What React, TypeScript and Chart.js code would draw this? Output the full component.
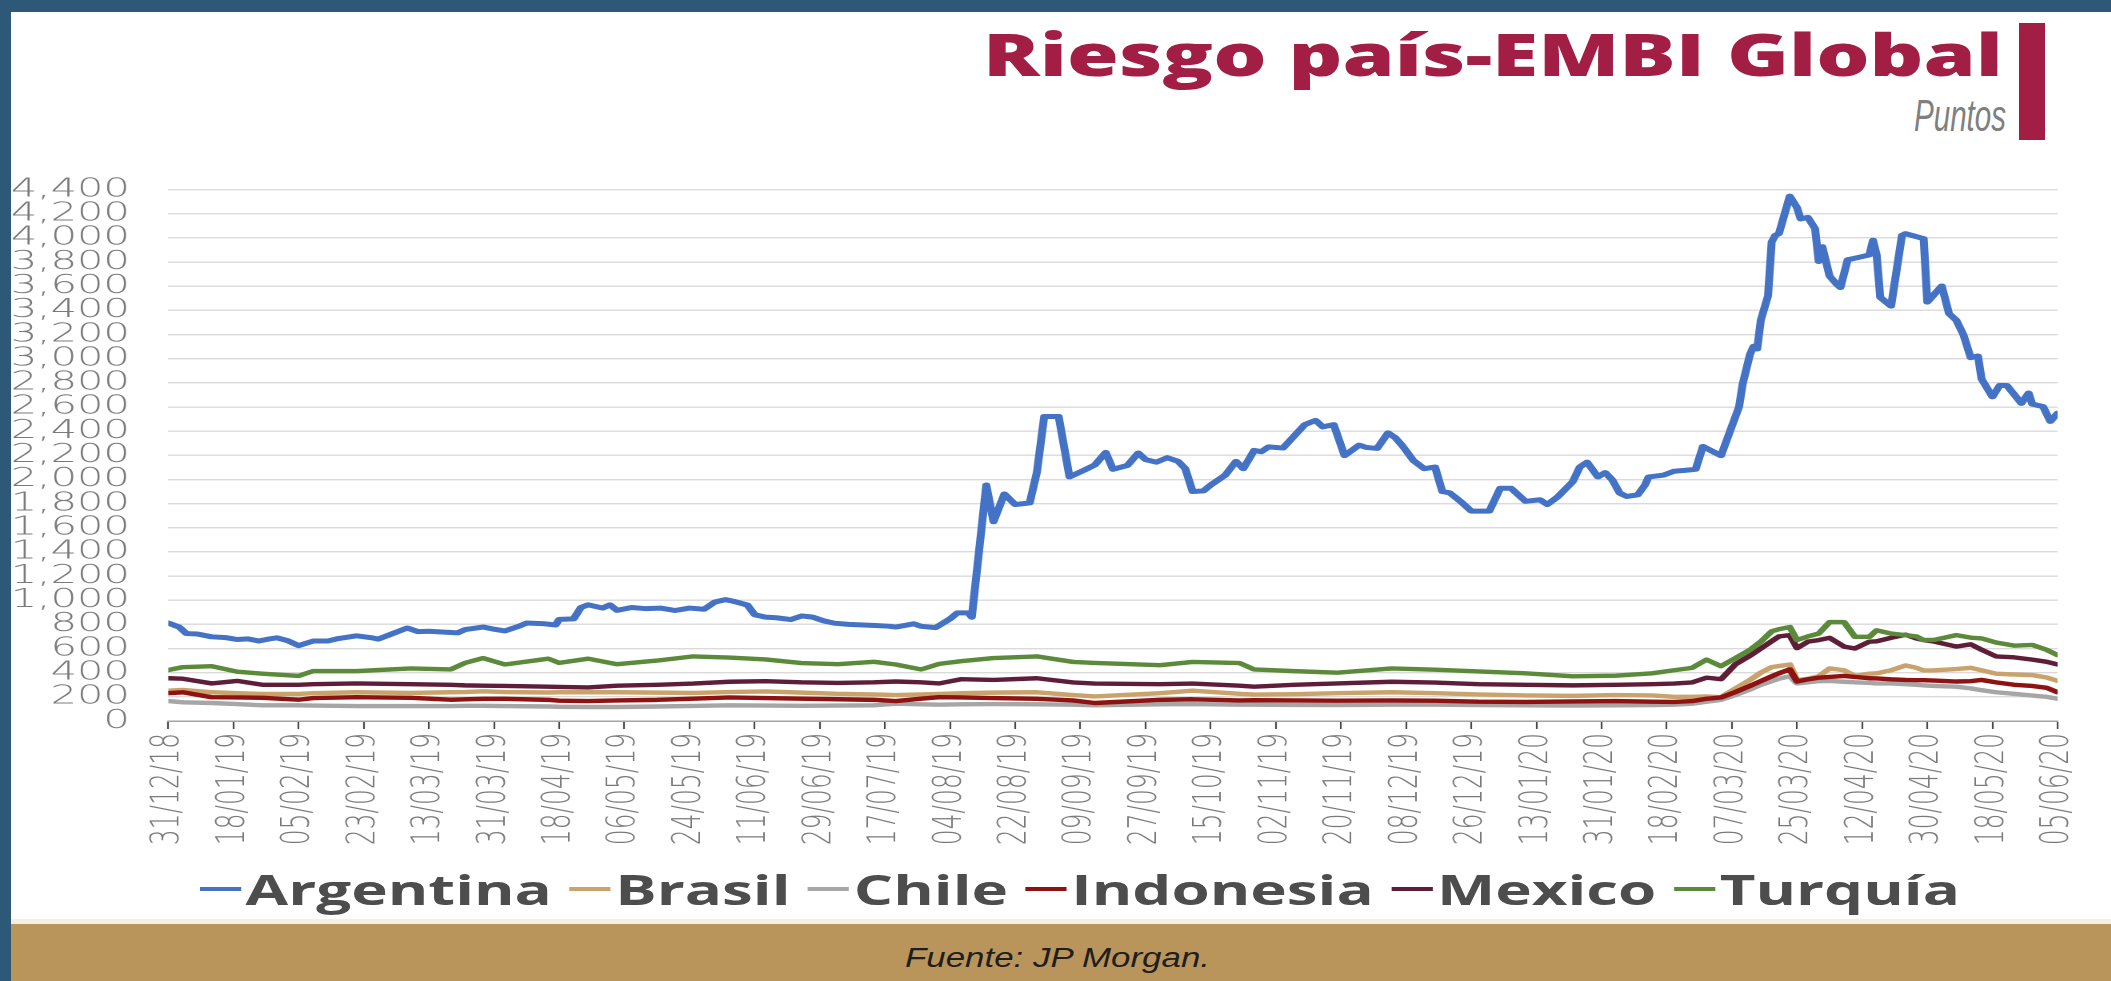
import React, { useEffect, useLayoutEffect, useRef } from 'react';
import { Chart, registerables } from 'chart.js';

Chart.register(...registerables);

// ---------- DATA ----------
const xLabels = ['31/12/18','18/01/19','05/02/19','23/02/19','13/03/19','31/03/19','18/04/19','06/05/19','24/05/19','11/06/19','29/06/19','17/07/19','04/08/19','22/08/19','09/09/19','27/09/19','15/10/19','02/11/19','20/11/19','08/12/19','26/12/19','13/01/20','31/01/20','18/02/20','07/03/20','25/03/20','12/04/20','30/04/20','18/05/20','05/06/20'];
// day offsets (from 31/12/18) of the labelled ticks
const xTickDays = [0,18,36,54,72,90,108,126,144,162,180,198,216,234,252,270,288,306,324,342,360,378,396,414,432,450,468,486,504,522];
const yTicks = [0,200,400,600,800,1000,1200,1400,1600,1800,2000,2200,2400,2600,2800,3000,3200,3400,3600,3800,4000,4200,4400];

const seriesNames = ['Argentina','Brasil','Chile','Indonesia','Mexico','Turquía'];

const argDays = [0,3,5,8,12,16,19,22,25,28,30,33,36,40,44,47,52,56,58,62,66,69,72,75,80,82,87,90,93,97,99,104,107,108,112,114,116,120,122,124,128,132,136,140,144,148,151,154,157,160,162,165,168,172,175,178,181,184,188,192,196,199,201,206,208,212,216,218,221,222,226,228,231,234,238,240,242,246,249,253,256,259,261,265,268,270,273,276,279,281,283,286,288,292,295,297,300,302,304,308,312,314,317,319,322,325,329,331,334,337,339,341,344,347,350,352,354,357,360,365,368,371,375,379,381,384,388,390,392,395,397,399,401,403,406,408,409,413,416,419,422,424,429,431,434,435,437,438,439,440,442,443,444,445,448,450,451,453,455,456,457,459,461,462,464,466,470,471,472,473,476,479,480,485,486,488,490,492,494,496,498,500,501,504,506,508,512,514,515,518,520,522];
const argentina = [811,778,724,720,697,690,675,680,662,680,689,665,624,662,662,683,705,690,678,724,770,740,743,738,730,757,778,760,746,786,811,805,795,841,846,940,962,935,962,916,940,930,935,915,935,925,985,1005,985,960,880,860,855,840,870,860,830,810,800,795,790,785,778,805,784,773,846,895,895,859,1954,1650,1880,1792,1806,2062,2521,2521,2021,2076,2120,2224,2084,2116,2219,2165,2143,2180,2150,2089,1900,1905,1954,2035,2150,2089,2240,2230,2270,2260,2390,2454,2489,2435,2454,2197,2284,2265,2257,2386,2346,2278,2157,2089,2103,1900,1890,1819,1738,1738,1927,1927,1819,1832,1792,1859,1980,2103,2143,2021,2057,1995,1887,1859,1873,1954,2021,2035,2068,2075,2084,2273,2197,2359,2603,2792,3035,3103,3080,3319,3521,3967,4021,4035,4346,4251,4157,4170,4076,3805,3927,3684,3616,3589,3819,3832,3859,3981,3860,3508,3435,4021,4035,3994,3468,3535,3602,3373,3319,3197,3008,3022,2832,2684,2778,2778,2630,2716,2624,2603,2481,2549];

const lowDays = [0,4,12,19,26,36,40,52,67,78,82,87,93,105,108,116,124,135,145,155,165,175,185,195,201,208,213,219,228,240,250,256,274,283,296,300,311,323,338,350,362,375,388,400,410,416,421,425,429,433,437,440,443,445,448,450,453,456,459,463,466,470,472,476,480,483,485,488,494,498,501,505,510,515,519,522];
const brasil = [251,257,238,230,224,224,230,238,232,238,240,246,240,236,238,238,238,235,232,240,245,235,225,220,215,220,224,230,235,238,215,203,230,251,225,219,222,230,238,230,220,212,208,215,212,200,200,203,197,270,340,400,446,455,468,338,350,370,435,420,373,392,395,420,460,440,419,420,430,440,420,392,385,380,360,332];
const chile = [165,155,149,140,130,130,128,124,124,124,126,126,124,120,118,116,116,120,125,130,128,126,128,130,143,138,135,138,140,138,135,130,138,140,135,135,133,132,135,135,132,130,128,130,132,135,143,160,175,215,260,300,330,350,370,311,320,330,332,325,320,315,311,311,305,300,295,290,284,270,255,238,225,211,200,184];
const indonesia = [230,238,197,195,192,176,190,197,192,176,180,184,184,175,168,165,170,175,185,195,190,185,180,175,165,185,197,195,190,184,170,149,175,180,170,172,170,168,170,168,160,158,162,165,160,158,165,184,195,240,290,330,370,395,427,327,345,359,365,373,365,354,352,345,340,338,338,335,327,330,340,320,300,290,275,238];
const mexico = [354,350,311,332,300,300,305,311,305,300,295,292,290,284,282,278,292,300,310,325,330,320,315,320,327,320,311,346,340,354,319,310,305,310,292,284,300,311,325,318,305,300,295,300,305,310,319,359,346,470,540,600,660,700,711,603,657,670,689,616,600,657,660,689,715,684,670,657,616,635,590,535,527,508,490,468];
const turquia = [422,446,454,408,392,373,413,413,435,427,481,521,468,516,481,516,470,500,535,525,510,480,470,490,468,427,473,495,521,535,489,481,462,489,480,427,413,400,435,425,410,395,370,375,395,420,440,508,454,521,589,657,743,760,778,670,700,724,819,819,697,697,751,724,711,700,670,672,711,690,684,650,624,630,589,545];

// ---------- STYLE ----------
const COLORS = ['#4472c4', '#c9a36b', '#a6a6a6', '#8e1212', '#5e1e38', '#5b8a3a'];
const FRAME = '#2d5878';
const CRIMSON = '#a21e45';
const STRETCH = 1.6; // the reference chart is horizontally stretched
const CW = 1320;
const CH = 710;
const TICK_FONT = "'DejaVu Sans', 'Noto Sans', sans-serif";

function FitText({ left, top, width, style, children }: any) {
  const ref = useRef<HTMLDivElement>(null);
  useLayoutEffect(() => {
    const el = ref.current;
    if (!el) return;
    const fit = () => {
      el.style.transform = 'none';
      const w = el.getBoundingClientRect().width;
      if (w > 0) el.style.transform = `scaleX(${width / w})`;
    };
    fit();
    const f: any = (document as any).fonts;
    if (f && f.ready) f.ready.then(fit);
  }, [width]);
  return (
    <div
      ref={ref}
      style={{
        position: 'absolute',
        left,
        top,
        whiteSpace: 'nowrap',
        transformOrigin: '0 0',
        lineHeight: 1,
        ...style,
      }}
    >
      {children}
    </div>
  );
}

export default function App() {
  const canvasRef = useRef<HTMLCanvasElement>(null);

  useEffect(() => {
    const pts = (days: number[], vals: number[]) => days.map((d, i) => ({ x: d, y: vals[i] }));
    const series = [
      pts(argDays, argentina),
      pts(lowDays, brasil),
      pts(lowDays, chile),
      pts(lowDays, indonesia),
      pts(lowDays, mexico),
      pts(lowDays, turquia),
    ];
    const tickFont = { family: TICK_FONT, size: 26, weight: 200 as any, lineHeight: 1.2 };
    const chart = new Chart(canvasRef.current as HTMLCanvasElement, {
      type: 'line',
      data: {
        datasets: series.map((data, i) => ({
          label: seriesNames[i],
          data,
          borderColor: COLORS[i],
          backgroundColor: COLORS[i],
          borderWidth: i === 0 ? 5 : 4.4,
          pointRadius: 0,
          tension: 0,
          fill: false,
          order: 6 - i,
          borderJoinStyle: 'round' as const,
          borderCapStyle: 'round' as const,
        })),
      },
      options: {
        animation: false,
        responsive: true,
        maintainAspectRatio: false,
        devicePixelRatio: 2,
        layout: { padding: { left: 0, right: 27.3, top: 28.3, bottom: 0 } },
        plugins: { legend: { display: false }, tooltip: { enabled: false } },
        scales: {
          x: {
            type: 'linear',
            min: 0,
            max: 522,
            afterFit: (s: any) => { s.height = 139; },
            afterBuildTicks: (s: any) => { s.ticks = xTickDays.map((v) => ({ value: v })); },
            border: { display: true, color: '#a3a3a3', width: 1.5 },
            grid: { drawOnChartArea: false, drawTicks: true, tickLength: 8, tickColor: '#4a4a4a', tickWidth: 1.1 },
            ticks: {
              autoSkip: false,
              maxRotation: 90,
              minRotation: 90,
              padding: 4,
              color: '#7a7a7a',
              font: { ...tickFont, size: 25 },
              callback: (_v: any, i: number) => xLabels[i],
            },
          },
          y: {
            min: 0,
            max: 4400,
            afterFit: (s: any) => { s.width = 105.2; },
            afterBuildTicks: (s: any) => { s.ticks = yTicks.map((v) => ({ value: v })); },
            border: { display: false },
            grid: { color: '#dadada', lineWidth: 1.4, drawTicks: false },
            ticks: {
              autoSkip: false,
              padding: 24,
              color: '#7a7a7a',
              font: tickFont,
              callback: (v: any) => Number(v).toLocaleString('en-US'),
            },
          },
        },
      },
    });
    return () => chart.destroy();
  }, []);

  return (
    <div style={{ position: 'fixed', left: 0, top: 0, width: 2111, height: 981, background: FRAME, overflow: 'hidden' }}>
      <div style={{ position: 'absolute', left: 11, top: 12, right: 0, bottom: 0, background: '#ffffff' }} />

      {/* Title block */}
      <FitText left={983} top={25} width={1020} style={{ fontFamily: "'Open Sans', sans-serif", fontWeight: 800, fontSize: 58, color: CRIMSON }}>
        Riesgo país-EMBI Global
      </FitText>
      <FitText left={1914} top={94} width={92} style={{ fontFamily: "'Liberation Sans', Arial, sans-serif", fontStyle: 'italic', fontSize: 44, color: '#7f7f7f' }}>
        Puntos
      </FitText>
      <div style={{ position: 'absolute', left: 2019, top: 23, width: 26, height: 117, background: CRIMSON }} />

      {/* Chart (stretched horizontally like the reference) */}
      <div style={{ position: 'absolute', left: 0, top: 150, width: CW, height: CH, transform: `scaleX(${STRETCH})`, transformOrigin: '0 0' }}>
        <canvas ref={canvasRef} />
      </div>

      {/* Legend */}
      <FitText left={200} top={868} width={1760} style={{ fontFamily: "'Open Sans', sans-serif", fontWeight: 700, fontSize: 42, color: '#4d4d4d', display: 'flex', alignItems: 'center' }}>
        {seriesNames.map((name, i) => (
          <span key={name} style={{ display: 'inline-flex', alignItems: 'center', marginRight: i < seriesNames.length - 1 ? 12 : 0 }}>
            <span style={{ display: 'inline-block', width: 28, height: 4, background: COLORS[i], marginRight: 3 }} />
            <span>{name}</span>
          </span>
        ))}
      </FitText>

      {/* Footer */}
      <div style={{ position: 'absolute', left: 11, top: 919, right: 0, height: 5, background: '#f4efe1' }} />
      <div style={{ position: 'absolute', left: 11, top: 924, right: 0, bottom: 0, background: '#b9955b' }} />
      <FitText left={905} top={945} width={305} style={{ fontFamily: "'Liberation Sans', Arial, sans-serif", fontStyle: 'italic', fontSize: 27, color: '#1e1e1e' }}>
        Fuente: JP Morgan.
      </FitText>
    </div>
  );
}
